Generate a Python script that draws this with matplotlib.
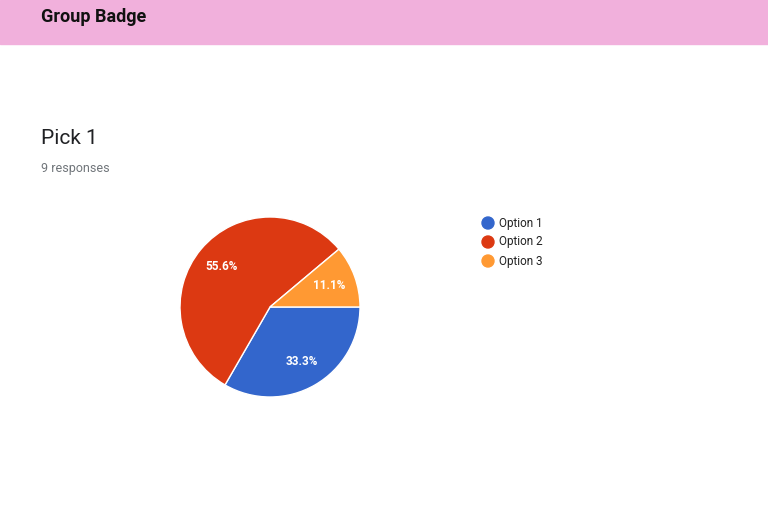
import matplotlib
matplotlib.use("Agg")
import matplotlib.pyplot as plt
from matplotlib.patches import Rectangle

labels = ["Option 1", "Option 2", "Option 3"]
values = [3, 5, 1]
colors = ["#3366cc", "#dc3912", "#ff9933"]

plt.rcParams['font.family'] = ['Roboto', 'DejaVu Sans']
W, H = 768, 508
fig = plt.figure(figsize=(W/100, H/100), dpi=100)
fig.patches.append(Rectangle((0, 1-44/H), 1, 44/H, transform=fig.transFigure, color="#f1b0dc", zorder=0))
fig.text(41/W, 1-17/H, "Group Badge", fontsize=13, fontweight="bold", va="center", color="#111111")
fig.text(41/W, 1-138/H, "Pick 1", fontsize=15, va="center", color="#202124")
fig.text(41/W, 1-168/H, "9 responses", fontsize=9, va="center", color="#70757a")

ax = fig.add_axes([180/W, (H-397)/H, 180/W, 180/H])
wedges, texts, autotexts = ax.pie(values, colors=colors, startangle=0, counterclock=False,
       autopct="%.1f%%", pctdistance=0.7,
       wedgeprops=dict(edgecolor="white", linewidth=1),
       textprops=dict(color="white", fontsize=8.5, fontweight="bold"))
ax.set_xlim(-1, 1)
ax.set_ylim(-1, 1)
ax.set_aspect("equal")

for i, (lab, c) in enumerate(zip(labels, colors)):
    y = 1 - (223 + 19*i)/H
    fig.patches.append(matplotlib.patches.Ellipse((488/W, y), 12/W, 12/H, transform=fig.transFigure, color=c))
    fig.text(499/W, y, lab, fontsize=8.5, va="center", color="#222222")

fig.savefig("out.png", dpi=100)
